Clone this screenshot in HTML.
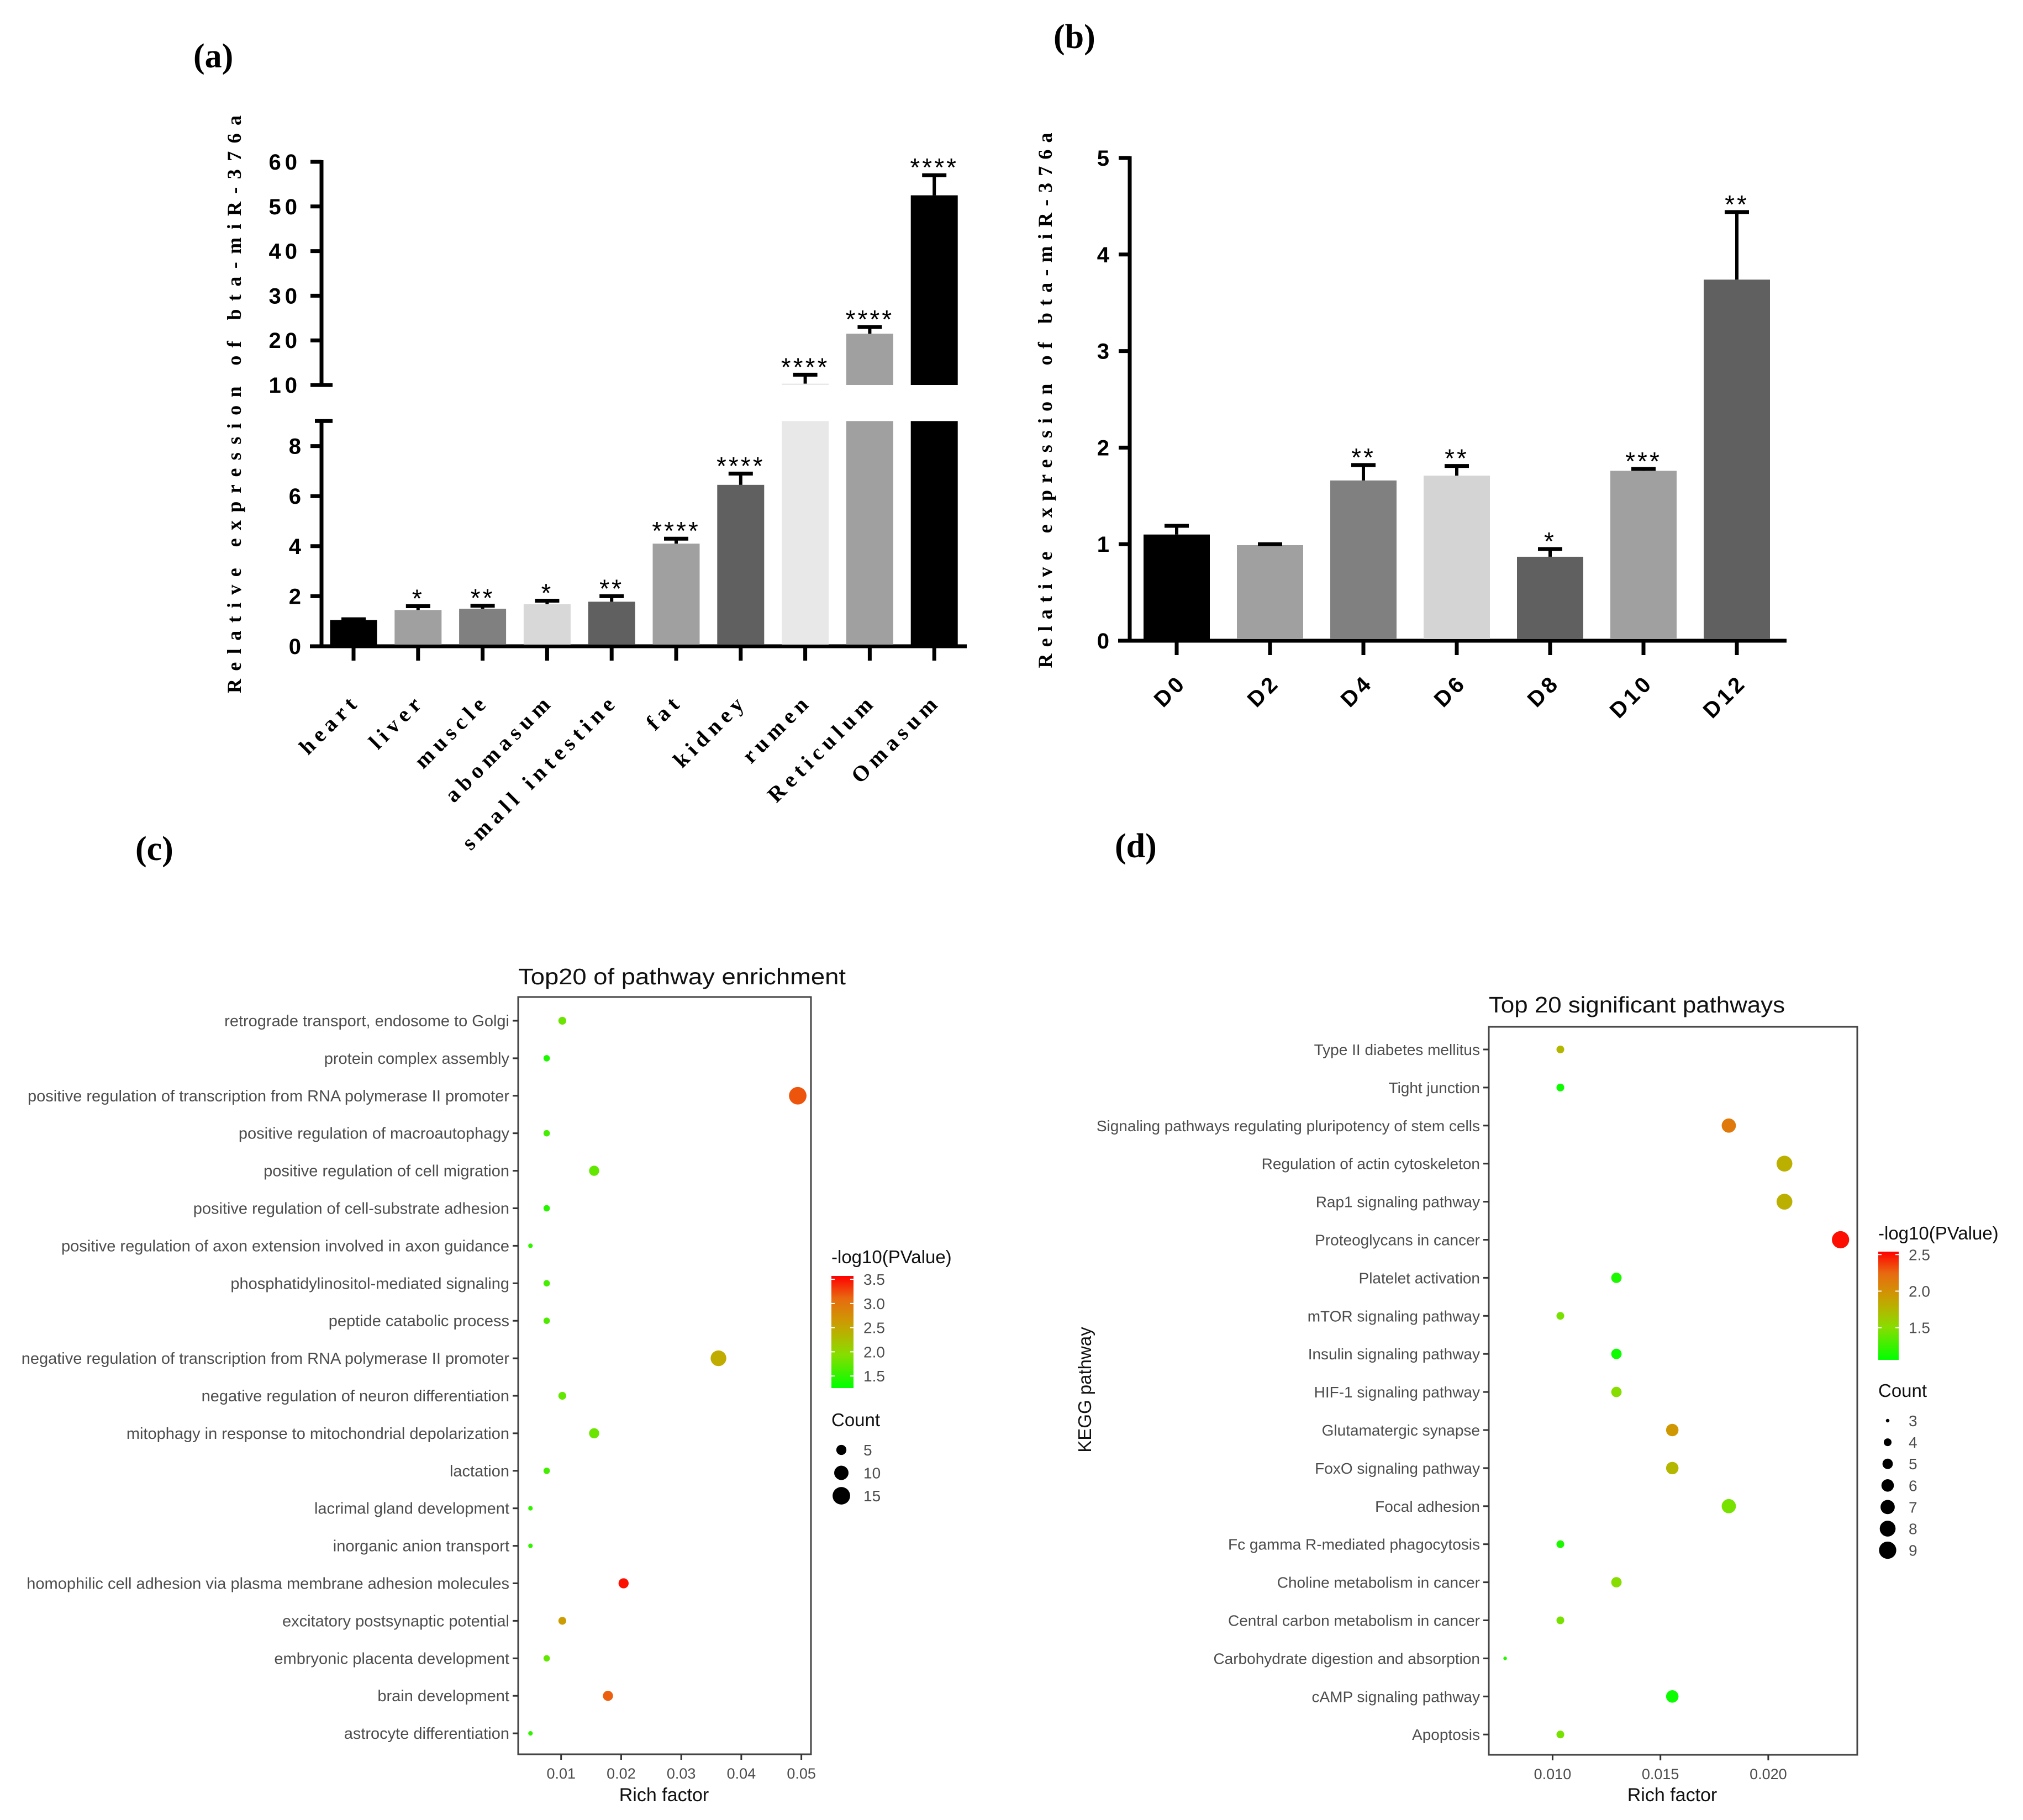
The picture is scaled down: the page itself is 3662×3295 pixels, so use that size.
<!DOCTYPE html>
<html><head><meta charset="utf-8"><style>
html,body{margin:0;padding:0;background:#fff;}
svg{display:block;}
.ser{font-family:"Liberation Serif",serif;font-weight:bold;}
.nar{font-family:"Liberation Sans Narrow","Liberation Sans",sans-serif;font-weight:bold;}
.gg{font-family:"Liberation Sans",sans-serif;}
</style></head><body>
<svg id="fig" xmlns="http://www.w3.org/2000/svg" width="3662" height="3295" viewBox="0 0 3662 3295">
<rect width="3662" height="3295" fill="#fff"/>
<text class="ser" x="350" y="122" font-size="62">(a)</text>
<text class="ser" x="1907" y="87" font-size="62">(b)</text>
<text class="ser" x="245" y="1557" font-size="62">(c)</text>
<text class="ser" x="2018" y="1552" font-size="62">(d)</text>
<g id="pa"></g>
<g id="pb"></g>
<g id="pc"></g>
<g id="pd"></g>
</svg>
<script>
// ---------- Panel A data ----------
const aCats = ["heart","liver","muscle","abomasum","small intestine","fat","kidney","rumen","Reticulum","Omasum"];
const aVals = [1.05,1.45,1.5,1.68,1.78,4.1,6.45,10.3,21.5,52.5];
const aErr  = [1.08,1.6,1.62,1.82,2.0,4.3,6.9,12.3,23,57];
const aStars = ["","*","**","*","**","****","****","****","****","****"];
const aFill = ["#000","#a0a0a0","#808080","#d8d8d8","#606060","#a0a0a0","#606060","#e8e8e8","#a0a0a0","#000"];
const aLowTicks = [0,2,4,6,8];
const aUpTicks = [10,20,30,40,50,60];
// ---------- Panel B data ----------
const bCats = ["D0","D2","D4","D6","D8","D10","D12"];
const bVals = [1.1,0.99,1.66,1.71,0.87,1.76,3.74];
const bErr  = [1.19,1.0,1.82,1.81,0.95,1.78,4.44];
const bStars = ["","","**","**","*","***","**"];
const bFill = ["#000","#a0a0a0","#808080","#d4d4d4","#606060","#a0a0a0","#606060"];
const bTicks = [0,1,2,3,4,5];
// ---------- Panel C data ----------
const cTerms = ["retrograde transport, endosome to Golgi","protein complex assembly","positive regulation of transcription from RNA polymerase II promoter","positive regulation of macroautophagy","positive regulation of cell migration","positive regulation of cell-substrate adhesion","positive regulation of axon extension involved in axon guidance","phosphatidylinositol-mediated signaling","peptide catabolic process","negative regulation of transcription from RNA polymerase II promoter","negative regulation of neuron differentiation","mitophagy in response to mitochondrial depolarization","lactation","lacrimal gland development","inorganic anion transport","homophilic cell adhesion via plasma membrane adhesion molecules","excitatory postsynaptic potential","embryonic placenta development","brain development","astrocyte differentiation"];
const cRich = [0.0102,0.0076,0.0494,0.0076,0.0155,0.0076,0.0049,0.0076,0.0076,0.0362,0.0102,0.0155,0.0076,0.0049,0.0049,0.0204,0.0102,0.0076,0.0178,0.0049];
const cLogP = [1.8,1.4,3.2,1.6,1.75,1.45,1.5,1.6,1.65,2.45,1.75,1.8,1.6,1.5,1.5,3.5,2.6,1.75,3.15,1.5];
const cCount = [3,2,15,2,5,2,1,2,2,12,3,5,2,1,1,5,3,2,5,1];
const cXTicks = [0.01,0.02,0.03,0.04,0.05];
const cXTickLabels = ["0.01","0.02","0.03","0.04","0.05"];
const cColorTicks = [3.5,3.0,2.5,2.0,1.5];
const cSizeLegend = [5,10,15];
// ---------- Panel D data ----------
const dTerms = ["Type II diabetes mellitus","Tight junction","Signaling pathways regulating pluripotency of stem cells","Regulation of actin cytoskeleton","Rap1 signaling pathway","Proteoglycans in cancer","Platelet activation","mTOR signaling pathway","Insulin signaling pathway","HIF-1 signaling pathway","Glutamatergic synapse","FoxO signaling pathway","Focal adhesion","Fc gamma R-mediated phagocytosis","Choline metabolism in cancer","Central carbon metabolism in cancer","Carbohydrate digestion and absorption","cAMP signaling pathway","Apoptosis"];
const dRich = [0.01036,0.01036,0.01817,0.02075,0.02075,0.02335,0.01296,0.01036,0.01296,0.01296,0.01555,0.01555,0.01817,0.01036,0.01296,0.01036,0.0078,0.01555,0.01036];
const dLogP = [1.75,1.1,2.15,1.8,1.8,2.5,1.15,1.45,1.1,1.5,1.95,1.75,1.45,1.15,1.5,1.45,1.2,1.1,1.45];
const dCount = [4,4,7,8,8,9,5,4,5,5,6,6,7,4,5,4,3,6,4];
const dXTicks = [0.010,0.015,0.020];
const dXTickLabels = ["0.010","0.015","0.020"];
const dColorTicks = [2.5,2.0,1.5];
const dSizeLegend = [3,4,5,6,7,8,9];

const NS="http://www.w3.org/2000/svg";
function mk(parent,tag,attrs,txt){const e=document.createElementNS(NS,tag);for(const k in attrs)e.setAttribute(k,attrs[k]);if(txt!==undefined)e.textContent=txt;parent.appendChild(e);return e;}

function gradColor(t){
  t=Math.max(0,Math.min(1,t));
  const st=[[0,[0,255,0]],[0.3,[136,221,0]],[0.55,[200,164,0]],[0.8,[232,106,16]],[1,[255,0,0]]];
  for(let i=0;i<st.length-1;i++){const a=st[i],b=st[i+1];if(t<=b[0]){const f=(t-a[0])/(b[0]-a[0]);const c=a[1].map((v,j)=>Math.round(v+(b[1][j]-v)*f));return `rgb(${c[0]},${c[1]},${c[2]})`;}}
  return "rgb(255,0,0)";
}

// ================= PANEL A =================
(function(){
  const g=document.getElementById('pa');
  const ax=582, y0=1170;
  const yLow=v=>y0-v*45.3;
  const yUp=v=>697-(v-10)*8.08;
  const xC=i=>640+i*116.8;
  const bw=85;
  let e;
  e=mk(g,'line',{x1:ax,y1:yLow(9)-3,x2:ax,y2:y0+3,stroke:'#000','stroke-width':7});
  
  
  e=mk(g,'line',{x1:570,y1:yLow(9),x2:602,y2:yLow(9),stroke:'#000','stroke-width':7});
  
  
  e=mk(g,'line',{x1:ax,y1:yUp(60)-3,x2:ax,y2:yUp(10),stroke:'#000','stroke-width':7});
  
  
  e=mk(g,'line',{x1:561,y1:y0,x2:1750,y2:y0,stroke:'#000','stroke-width':7});
  
  
  aLowTicks.forEach(v=>{
    const t=mk(g,'line',{x1:ax-20,y1:yLow(v),x2:ax,y2:yLow(v),stroke:'#000','stroke-width':7});
    
    
    const l=mk(g,'text',{x:545,y:yLow(v)+14,'font-size':40,'text-anchor':'end',class:'nar'},String(v));
    
    
  });
  aUpTicks.forEach(v=>{
    const t=mk(g,'line',{x1:ax-20,y1:yUp(v),x2:v===10?ax+20:ax,y2:yUp(v),stroke:'#000','stroke-width':7});
    
    
    const l=mk(g,'text',{x:545,y:yUp(v)+14,'font-size':40,'text-anchor':'end',class:'nar','letter-spacing':'7'},String(v));
    
    
  });
  const tt=mk(g,'text',{x:0,y:0,'font-size':36,class:'ser','text-anchor':'middle',transform:'translate(436,732) rotate(-90)',textLength:1046,lengthAdjust:'spacing'},'Relative expression of bta-miR-376a');
  
  
  aCats.forEach((c,i)=>{
    const v=aVals[i], er=aErr[i], cx=xC(i);
    const tk=mk(g,'line',{x1:cx,y1:y0,x2:cx,y2:1196,stroke:'#000','stroke-width':7});
    
    
    const top=v>9?yLow(9):yLow(v);
    const b=mk(g,'rect',{x:cx-bw/2,y:top,width:bw,height:y0-3-top,fill:aFill[i]});
    
    
    if(v>10){
      const b2=mk(g,'rect',{x:cx-bw/2,y:yUp(v),width:bw,height:yUp(10)-yUp(v),fill:aFill[i]});
      
      
    }
    let capY, baseY;
    if(er>10){capY=yUp(er);baseY=yUp(Math.max(v,10));}else{capY=yLow(er);baseY=yLow(v);}
    const s=mk(g,'line',{x1:cx,y1:baseY,x2:cx,y2:capY,stroke:'#000','stroke-width':6});
    
    
    const cp=mk(g,'line',{x1:cx-22,y1:capY,x2:cx+22,y2:capY,stroke:'#000','stroke-width':7});
    
    
    if(aStars[i]){
      const st=mk(g,'text',{x:cx,y:capY+2,'font-size':46,'text-anchor':'middle',class:'gg','letter-spacing':'4'},aStars[i]);
      
      
    }
    const xl=mk(g,'text',{x:0,y:0,'font-size':40,'text-anchor':'end',class:'ser','letter-spacing':'9',transform:`translate(${cx+14},1272) rotate(-45)`},c);
    
    
  });
})();

// ================= PANEL B =================
(function(){
  const g=document.getElementById('pb');
  const ax=2045, y0=1160;
  const y=v=>y0-v*174.8;
  const xC=i=>2130+i*169;
  const bw=120;
  let e=mk(g,'line',{x1:ax,y1:y(5)-3,x2:ax,y2:y0+3,stroke:'#000','stroke-width':7});
  
  
  e=mk(g,'line',{x1:2024,y1:y0,x2:3234,y2:y0,stroke:'#000','stroke-width':7});
  
  
  bTicks.forEach(v=>{
    const t=mk(g,'line',{x1:ax-20,y1:y(v),x2:ax,y2:y(v),stroke:'#000','stroke-width':7});
    
    
    const l=mk(g,'text',{x:2008,y:y(v)+14,'font-size':40,'text-anchor':'end',class:'nar'},String(v));
    
    
  });
  const tt=mk(g,'text',{x:0,y:0,'font-size':36,class:'ser','text-anchor':'middle',transform:'translate(1904,725) rotate(-90)',textLength:969,lengthAdjust:'spacing'},'Relative expression of bta-miR-376a');
  
  
  bCats.forEach((c,i)=>{
    const cx=xC(i);
    const tk=mk(g,'line',{x1:cx,y1:y0,x2:cx,y2:1186,stroke:'#000','stroke-width':7});
    
    
    const b=mk(g,'rect',{x:cx-bw/2,y:y(bVals[i]),width:bw,height:y0-3-y(bVals[i]),fill:bFill[i]});
    
    
    const s=mk(g,'line',{x1:cx,y1:y(bVals[i]),x2:cx,y2:y(bErr[i]),stroke:'#000','stroke-width':6});
    
    
    const cp=mk(g,'line',{x1:cx-22,y1:y(bErr[i]),x2:cx+22,y2:y(bErr[i]),stroke:'#000','stroke-width':7});
    
    
    if(bStars[i]){
      const st=mk(g,'text',{x:cx,y:y(bErr[i])+2,'font-size':46,'text-anchor':'middle',class:'gg','letter-spacing':'4'},bStars[i]);
      
      
    }
    const xl=mk(g,'text',{x:0,y:0,'font-size':40,'text-anchor':'end',class:'gg','font-weight':'bold','letter-spacing':'6',transform:`translate(${cx+20},1238) rotate(-45)`},c);
    
    
  });
})();

// ================= DOT PLOT helper =================
function dotPanel(g,o,terms,rich,logp,count,xt,xtl,cticks,sizeLeg,rFn){
  const x=v=>o.x0+v*o.xs;
  const yRow=i=>o.row0+i*o.rowStep;
  const cT=v=>(v-o.cmin)/(o.cmax-o.cmin);
  let e=mk(g,'text',{x:o.bl,y:o.titleY,'font-size':41,class:'gg',fill:'#111',textLength:o.titleLen,lengthAdjust:'spacingAndGlyphs'},o.title);
  
  
  e=mk(g,'rect',{x:o.bl,y:o.bt,width:o.br-o.bl,height:o.bb-o.bt,fill:'none',stroke:'#444','stroke-width':3});
  
  
  terms.forEach((t,i)=>{
    const yy=yRow(i);
    const tk=mk(g,'line',{x1:o.bl-10,y1:yy,x2:o.bl,y2:yy,stroke:'#333','stroke-width':3});
    
    
    const l=mk(g,'text',{x:o.bl-16,y:yy+10,'font-size':o.lfs,'text-anchor':'end',class:'gg',fill:'#4d4d4d'},t);
    
    
    const c=mk(g,'circle',{cx:x(rich[i]),cy:yy,r:rFn(count[i]),fill:gradColor(cT(logp[i]))});
    
    
  });
  xt.forEach((v,i)=>{
    const tk=mk(g,'line',{x1:x(v),y1:o.bb,x2:x(v),y2:o.bb+10,stroke:'#333','stroke-width':3});
    
    
    const l=mk(g,'text',{x:x(v),y:o.bb+44,'font-size':27,'text-anchor':'middle',class:'gg',fill:'#4d4d4d'},xtl[i]);
    
    
  });
  e=mk(g,'text',{x:o.xtitleX,y:3261,'font-size':34,'text-anchor':'middle',class:'gg',fill:'#111'},'Rich factor');
  
  
  e=mk(g,'text',{x:o.lx,y:o.ltY,'font-size':33,class:'gg',fill:'#111'},'-log10(PValue)');
  
  
  const defs=mk(g,'defs',{});
  const lg=mk(defs,'linearGradient',{id:o.gid,x1:0,y1:1,x2:0,y2:0});
  for(let k=0;k<=10;k++){mk(lg,'stop',{offset:(k/10),'stop-color':gradColor(k/10)});}
  e=mk(g,'rect',{x:o.lx,y:o.cbTop,width:o.cbW,height:o.cbBot-o.cbTop,fill:`url(#${o.gid})`});
  
  
  const cy=v=>o.cbBot-(v-o.cmin)/(o.cmax-o.cmin)*(o.cbBot-o.cbTop);
  cticks.forEach(v=>{
    const l=mk(g,'text',{x:o.lx+o.cbW+18,y:cy(v)+10,'font-size':28,class:'gg',fill:'#4d4d4d'},v.toFixed(1));
    
    
    mk(g,'line',{x1:o.lx,y1:cy(v),x2:o.lx+6,y2:cy(v),stroke:'#fff','stroke-width':2});
    mk(g,'line',{x1:o.lx+o.cbW-6,y1:cy(v),x2:o.lx+o.cbW,y2:cy(v),stroke:'#fff','stroke-width':2});
  });
  e=mk(g,'text',{x:o.lx,y:o.stY,'font-size':33,class:'gg',fill:'#111'},'Count');
  
  
  sizeLeg.forEach((v,i)=>{
    const yy=o.sy0+i*o.sStep;
    const c=mk(g,'circle',{cx:o.sx,cy:yy,r:rFn(v),fill:'#000'});
    
    
    const l=mk(g,'text',{x:o.lx+o.cbW+18,y:yy+10,'font-size':28,class:'gg',fill:'#4d4d4d'},String(v));
    
    
  });
}

dotPanel(document.getElementById('pc'),{
  x0:907,xs:10872,row0:1848,rowStep:67.9,bl:938,br:1468,bt:1805,bb:3176,lfs:29,
  title:'Top20 of pathway enrichment',titleY:1782,titleLen:593,xtitleX:1202,
  lx:1505,ltY:2287,cbTop:2310,cbBot:2513,cbW:40,cmin:1.25,cmax:3.57,gid:'gc',
  stY:2582,sx:1523,sy0:2625,sStep:41.5
},cTerms,cRich,cLogP,cCount,cXTicks,cXTickLabels,cColorTicks,cSizeLegend,c=>4.1*Math.sqrt(c));

dotPanel(document.getElementById('pd'),{
  x0:2420,xs:39045,row0:1900,rowStep:68.9,bl:2695,br:3362,bt:1859,bb:3177,lfs:28,
  title:'Top 20 significant pathways',titleY:1833,titleLen:536,xtitleX:3027,
  lx:3400,ltY:2244,cbTop:2266,cbBot:2462,cbW:37,cmin:1.06,cmax:2.54,gid:'gd',
  stY:2529,sx:3417,sy0:2572,sStep:39.1
},dTerms,dRich,dLogP,dCount,dXTicks,dXTickLabels,dColorTicks,dSizeLegend,c=>1.3*Math.sqrt(6.25+23*(c-3)));

(function(){
  const g=document.getElementById('pd');
  const e=mk(g,'text',{x:0,y:0,'font-size':33,class:'gg','text-anchor':'middle',fill:'#111',transform:'translate(1975,2516) rotate(-90)'},'KEGG pathway');
  
  
})();
</script>
</body></html>
